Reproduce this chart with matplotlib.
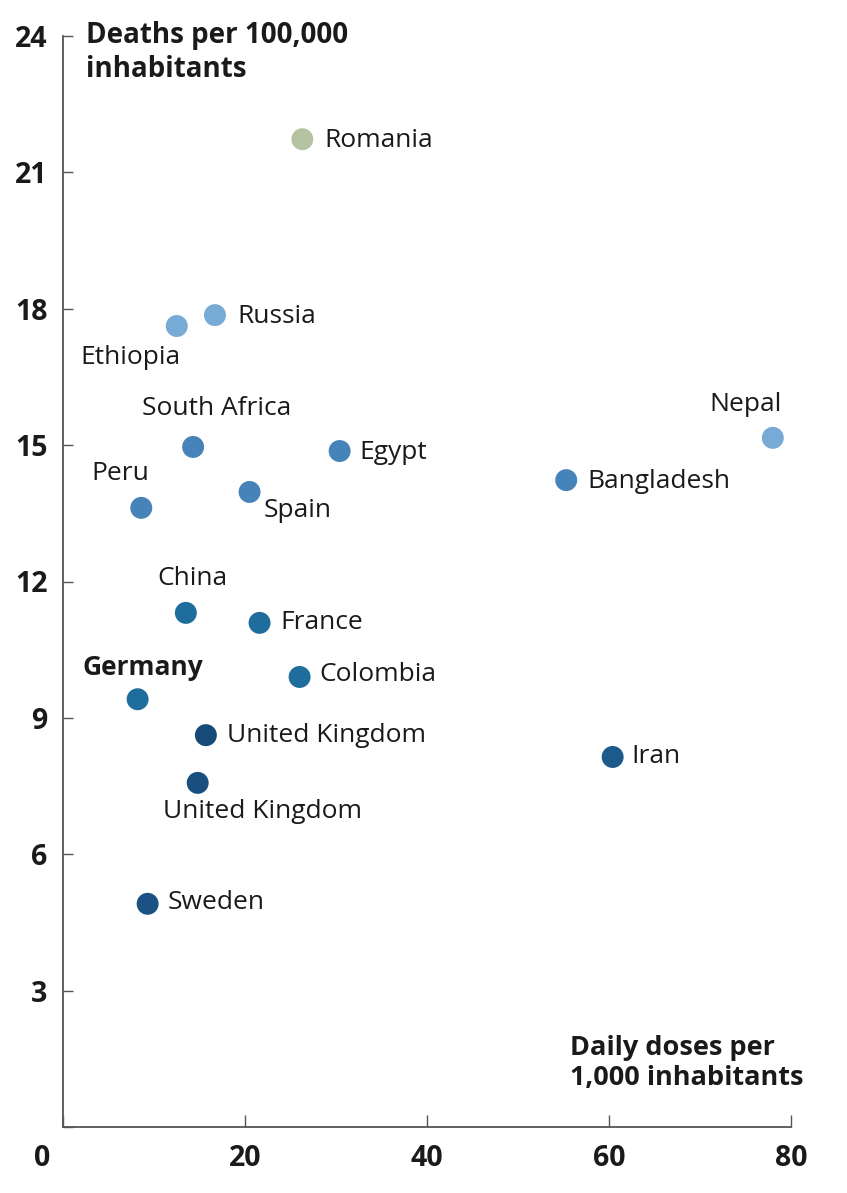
import matplotlib.pyplot as plt
import matplotlib.transforms as mtransforms

plt.rcParams["font.family"] = ["Open Sans", "DejaVu Sans"]

countries = [
    "Romania", "Russia", "Ethiopia", "South Africa", "Egypt", "Nepal",
    "Bangladesh", "Peru", "Spain", "China", "France", "Colombia",
    "Germany", "United Kingdom", "United Kingdom", "Iran", "Sweden",
]
daily_doses = [26.3, 16.7, 12.5, 14.3, 30.4, 78.0, 55.3, 8.6, 20.5, 13.5,
               21.6, 26.0, 8.2, 15.7, 14.8, 60.4, 9.3]
deaths = [21.73, 17.86, 17.62, 14.96, 14.87, 15.16, 14.23, 13.62, 13.97,
          11.31, 11.09, 9.90, 9.41, 8.62, 7.57, 8.14, 4.91]
colors = ["#b5c3a2", "#78aad6", "#78aad6", "#4683b8", "#4683b8", "#78aad6",
          "#4683b8", "#4683b8", "#4683b8", "#1f6d9c", "#1f6d9c", "#1f6d9c",
          "#1f6d9c", "#164b79", "#1a4e7e", "#1c5a8c", "#1b5283"]
# label offsets in pixels relative to the dot, plus alignment
label_pos = {
    0: (22, -1, "left"), 1: (22, -1, "left"), 2: (-46, -31, "center"),
    3: (23, 38, "center"), 4: (20, -1, "left"), 5: (-27, 33, "center"),
    6: (21, -1, "left"), 7: (-21, 34, "center"), 8: (14, -19, "left"),
    9: (7, 34, "center"), 10: (21, 0, "left"), 11: (20, 2, "left"),
    12: (5, 32, "center"), 13: (21, 0, "left"), 14: (65, -29, "center"),
    15: (19, 0, "left"), 16: (20, 1, "left"),
}

x_ticks = [0, 20, 40, 60, 80]
y_ticks = [0, 3, 6, 9, 12, 15, 18, 21, 24]

fig = plt.figure(figsize=(8.47, 11.93), dpi=100)
ax = fig.add_axes([63 / 847, 66 / 1193, 728 / 847, 1091 / 1193])

ax.scatter(daily_doses, deaths, s=250, c=colors, edgecolors="none", zorder=3)

for i, name in enumerate(countries):
    dx, dy, ha = label_pos[i]
    weight = "bold" if name == "Germany" else "normal"
    ax.annotate(name, (daily_doses[i], deaths[i]), xytext=(dx, dy),
                textcoords="offset pixels", ha=ha, va="center",
                fontsize=19, color="#1a1a1a", fontweight=weight)

ax.set_xlim(0, 80)
ax.set_ylim(0, 24)
ax.set_xticks(x_ticks)
ax.set_xticklabels([""] + [str(t) for t in x_ticks[1:]])
ax.set_yticks(y_ticks)
ax.set_yticklabels([""] + [str(t) for t in y_ticks[1:]])

for side in ["top", "right"]:
    ax.spines[side].set_visible(False)
for side in ["left", "bottom"]:
    ax.spines[side].set_color("#555555")
    ax.spines[side].set_linewidth(1.3)

ax.tick_params(axis="x", direction="in", length=9, width=1, color="#555555",
               pad=12, labelsize=20.5)
ax.tick_params(axis="y", direction="in", length=7, width=1, color="#555555",
               pad=11, labelsize=20.5)
for lab in ax.get_xticklabels() + ax.get_yticklabels():
    lab.set_fontweight("bold")
    lab.set_color("#1a1a1a")

# shared zero at the corner
offset = mtransforms.ScaledTranslation(-21 / 100, -17 / 100, fig.dpi_scale_trans)
ax.text(0, 0, "0", transform=ax.transData + offset, ha="center", va="top",
        fontsize=20.5, fontweight="bold", color="#1a1a1a")

ax.text(0.032, 0.985, "Deaths per 100,000\ninhabitants", transform=ax.transAxes,
        ha="left", va="center", fontsize=20, fontweight="bold",
        color="#1a1a1a", linespacing=1.2)
ax.text(0.697, 0.0585, "Daily doses per\n1,000 inhabitants", transform=ax.transAxes,
        ha="left", va="center", fontsize=19.5, fontweight="bold",
        color="#1a1a1a", linespacing=1.2)

fig.savefig("out.png", dpi=100)
